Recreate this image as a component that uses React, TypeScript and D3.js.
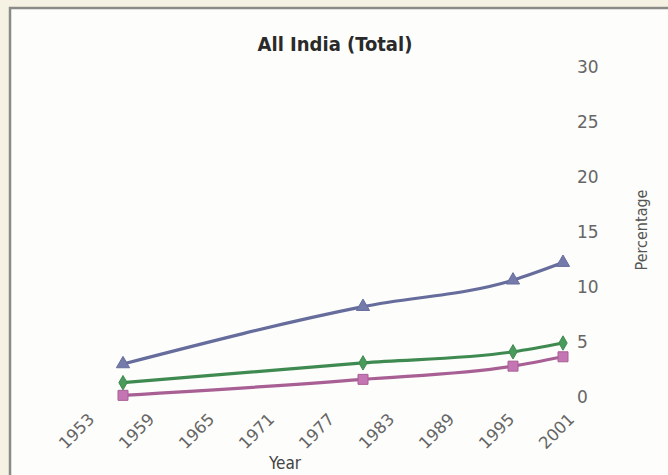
import * as d3 from 'd3';

const years = [1957, 1981, 1996, 2001];
const seriesTop = [3.0, 8.2, 10.6, 12.2];
const seriesMid = [1.3, 3.1, 4.1, 4.9];
const seriesLow = [0.15, 1.6, 2.8, 3.65];
const xTicks = [1953, 1959, 1965, 1971, 1977, 1983, 1989, 1995, 2001];
const yTicks = [0, 5, 10, 15, 20, 25, 30];

const W = 668;
const H = 475;

export default function App() {
  const x = d3.scaleLinear().domain([1953, 2001]).range([83, 563]);
  const y = d3.scaleLinear().domain([0, 30]).range([397, 66.5]);

  const line = d3
    .line<number>()
    .x((_, i) => x(years[i]))
    .y((d) => y(d))
    .curve(d3.curveMonotoneX);

  const tri = d3.symbol(d3.symbolTriangle, 75)() || '';
  const sq = d3.symbol(d3.symbolSquare, 100)() || '';
  const dia = d3.symbol(d3.symbolDiamond, 60)() || '';

  const series = [
    { values: seriesTop, color: '#666d9c', mark: '#747bab', path: tri },
    { values: seriesMid, color: '#3e8a50', mark: '#4a9a5c', path: dia },
    { values: seriesLow, color: '#a85f94', mark: '#c476b4', path: sq },
  ];

  return (
    <svg
      width={W}
      height={H}
      style={{ position: 'absolute', left: 0, top: 0 }}
      fontFamily="DejaVu Sans"
    >
      <rect width={W} height={H} fill="#f6f2e3" />
      <rect x={10} y={8} width={W} height={H} fill="#fdfdfb" stroke="#8a8a86" strokeWidth={2.5} />

      <text
        x={335}
        y={51}
        textAnchor="middle"
        fontFamily="DejaVu Sans Condensed"
        fontWeight="bold"
        fontSize={20}
        fill="#2a2a2a"
      >
        All India (Total)
      </text>

      {yTicks.map((t) => (
        <text key={t} x={577} y={y(t)} dy="0.36em" fontSize={17} fill="#666">
          {t}
        </text>
      ))}

      <text
        transform={`translate(647,230) rotate(-90)`}
        textAnchor="middle"
        fontFamily="DejaVu Sans Condensed"
        fontSize={16}
        fill="#555"
      >
        Percentage
      </text>

      {xTicks.map((t) => (
        <text
          key={t}
          transform={`translate(${x(t) + 4},${412}) rotate(-45)`}
          textAnchor="end"
          dy="0.72em"
          fontSize={16.5}
          fill="#666"
        >
          {t}
        </text>
      ))}

      <text
        x={285}
        y={469}
        textAnchor="middle"
        fontFamily="DejaVu Sans Condensed"
        fontSize={17}
        fill="#444"
      >
        Year
      </text>

      {series.map((s, si) => (
        <g key={si}>
          <path d={line(s.values) || ''} fill="none" stroke={s.color} strokeWidth={3.2} />
          {s.values.map((v, i) => (
            <path
              key={i}
              d={s.path}
              transform={`translate(${x(years[i])},${y(v)})`}
              fill={s.mark}
              stroke={s.color}
              strokeWidth={1}
            />
          ))}
        </g>
      ))}
    </svg>
  );
}
